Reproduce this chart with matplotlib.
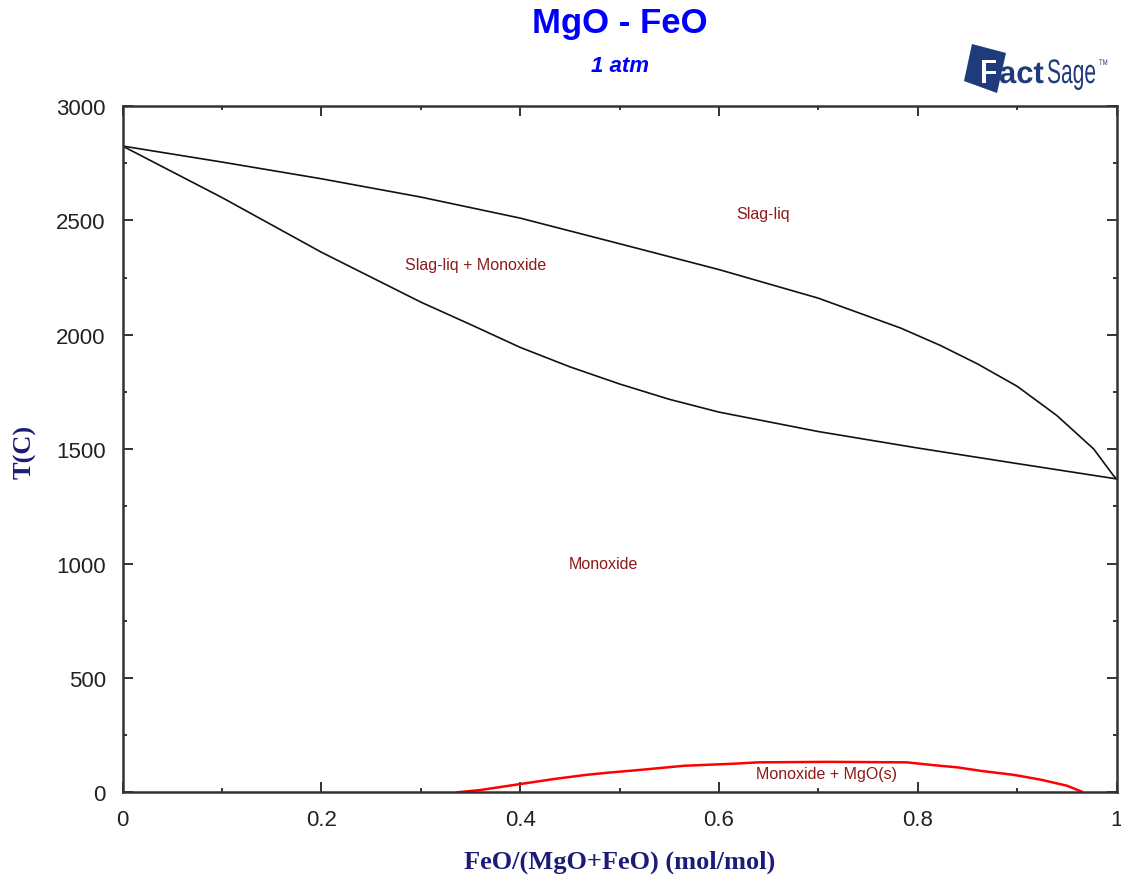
import matplotlib
matplotlib.use("Agg")
import matplotlib.pyplot as plt
from matplotlib.ticker import MultipleLocator, FixedLocator
from matplotlib.textpath import TextPath
from matplotlib.font_manager import FontProperties
from matplotlib.patches import PathPatch, Polygon
from matplotlib.transforms import Affine2D

# Liquidus: Slag-liq / Slag-liq + Monoxide boundary
liq_x = [0.0, 0.1, 0.2, 0.3, 0.4, 0.5, 0.6, 0.7, 0.783, 0.823, 0.86, 0.9, 0.94, 0.977, 0.997, 1.0]
liq_T = [2825, 2755, 2682, 2602, 2510, 2398, 2285, 2160, 2029, 1953, 1873, 1775, 1647, 1501, 1384, 1370]

# Solidus: Slag-liq + Monoxide / Monoxide boundary
sol_x = [0.0, 0.1, 0.2, 0.3, 0.35, 0.4, 0.45, 0.5, 0.55, 0.6, 0.7, 0.8, 0.9, 1.0]
sol_T = [2825, 2600, 2361, 2143, 2045, 1945, 1860, 1785, 1718, 1662, 1577, 1505, 1437, 1370]

# Monoxide miscibility gap
gap_x = [0.337, 0.36, 0.4, 0.434, 0.466, 0.489, 0.521, 0.565, 0.615, 0.64, 0.71,
         0.789, 0.815, 0.84, 0.863, 0.897, 0.924, 0.95, 0.965]
gap_T = [0, 10, 36, 58, 76, 86, 98, 116, 125, 131, 133, 131, 119, 109, 94, 76, 55, 29, 3]

# Phase field labels
field_labels = ["Slag-liq", "Slag-liq + Monoxide", "Monoxide", "Monoxide + MgO(s)"]
field_x = [0.644, 0.355, 0.484, 0.708]
field_T = [2532, 2305, 998, 80]

x_ticks = [0, 0.2, 0.4, 0.6, 0.8, 1]
x_ticklabels = ["0", "0.2", "0.4", "0.6", "0.8", "1"]
y_ticks = [0, 500, 1000, 1500, 2000, 2500, 3000]

W, H = 1121, 878
fig = plt.figure(figsize=(W / 100, H / 100), dpi=100)
fig.patch.set_facecolor("white")

L, R, T, B = 122.5, 1116.5, 107, 793.3
ax = fig.add_axes([L / W, 1 - B / H, (R - L) / W, (B - T) / H])

ax.plot(liq_x, liq_T, color="#111111", lw=1.2)
ax.plot(sol_x, sol_T, color="#111111", lw=1.2)
ax.plot(gap_x, gap_T, color="#ff0000", lw=1.8)

for s, x, t in zip(field_labels, field_x, field_T):
    ax.text(x, t, s, ha="center", va="center", fontsize=11.5,
            family="Liberation Sans", color="#8b1a1a")

ax.set_xlim(0, 1)
ax.set_ylim(0, 3000)
ax.xaxis.set_major_locator(FixedLocator(x_ticks))
ax.set_xticklabels(x_ticklabels)
ax.xaxis.set_minor_locator(MultipleLocator(0.1))
ax.yaxis.set_major_locator(FixedLocator(y_ticks))
ax.yaxis.set_minor_locator(MultipleLocator(250))

for sp in ax.spines.values():
    sp.set_linewidth(1.8)
    sp.set_color("#333333")

ax.tick_params(which="both", direction="in", top=True, right=True,
               color="#333333", width=1.4)
ax.tick_params(which="major", length=7)
ax.tick_params(which="minor", length=3)
ax.tick_params(axis="x", which="major", pad=12, labelsize=16, labelcolor="#222222")
ax.tick_params(axis="y", which="major", pad=12, labelsize=16, labelcolor="#222222")
for lab in ax.get_xticklabels() + ax.get_yticklabels():
    lab.set_family("Liberation Sans")

fig.text(620 / W, 1 - 862 / H, "FeO/(MgO+FeO) (mol/mol)", ha="center",
         va="center", fontsize=19, fontweight="bold", family="Liberation Serif",
         color="#1c1c78")
fig.text(25 / W, 1 - 452 / H, "T(C)", ha="center", va="center", rotation=90,
         fontsize=19, fontweight="bold", family="Liberation Serif", color="#1c1c78")

fig.text(620 / W, 1 - 24 / H, "MgO - FeO", ha="center", va="center", fontsize=25,
         fontweight="bold", family="Liberation Sans", color="#0000ff")
fig.text(620 / W, 1 - 66 / H, "1 atm", ha="center", va="center", fontsize=16,
         fontweight="bold", style="italic", family="Liberation Sans", color="#0000ff")

# FactSage logo, drawn in pixel coordinates (y pointing down)
lx0, lx1, ly0, ly1 = 955, 1121, 35, 100
lax = fig.add_axes([lx0 / W, 1 - ly1 / H, (lx1 - lx0) / W, (ly1 - ly0) / H])
lax.set_xlim(lx0, lx1)
lax.set_ylim(ly1, ly0)
lax.axis("off")
navy = "#1f3b7a"
lax.add_patch(Polygon([(972, 45), (1006, 54), (997, 94), (964, 82)], closed=True,
                      facecolor=navy, edgecolor="none"))


def logo_text(s, x, y, sx, sy, color, weight="bold"):
    tp = TextPath((0, 0), s, size=1, prop=FontProperties(family="Liberation Sans", weight=weight))
    tr = Affine2D().scale(sx, -sy).translate(x, y)
    lax.add_patch(PathPatch(tr.transform_path(tp), facecolor=color, edgecolor="none"))


logo_text("F", 980, 84, 28, 34, "white")
logo_text("act", 999, 84, 31, 31, navy)
logo_text("Sage", 1047, 84, 21, 34, navy, weight="normal")
logo_text("TM", 1099, 66, 6, 8, navy, weight="normal")

fig.savefig("out.png", dpi=100, facecolor="white")
